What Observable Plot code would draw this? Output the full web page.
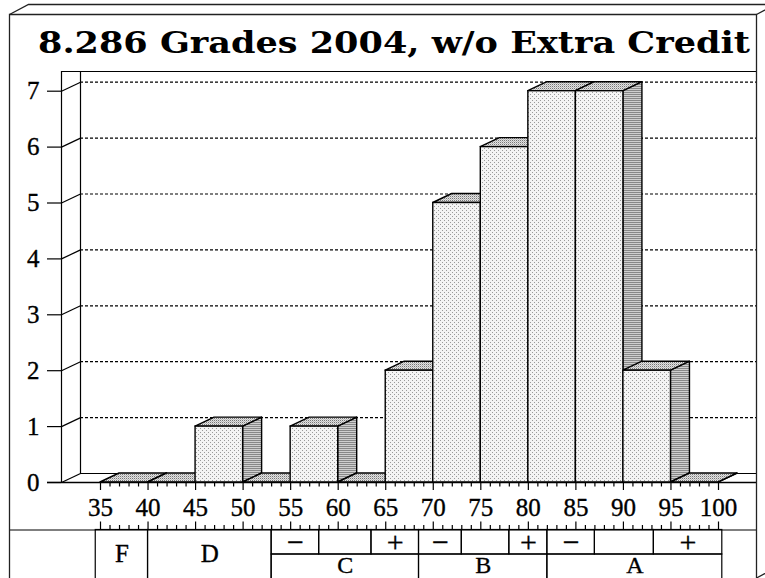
<!DOCTYPE html>
<html><head><meta charset="utf-8">
<script src="https://cdn.jsdelivr.net/npm/d3@7"></script>
<script src="https://cdn.jsdelivr.net/npm/@observablehq/plot@0.6"></script>
<style>html,body{margin:0;padding:0;background:#fff;} #chart{width:765px;height:578px;overflow:hidden;}</style>
</head><body><div id="chart"></div>
<script>
// ---------- data ----------
const title = "8.286 Grades 2004, w/o Extra Credit";
const binStarts = [35, 40, 45, 50, 55, 60, 65, 70, 75, 80, 85, 90, 95];
const counts    = [ 0,  0,  1,  0,  1,  0,  2,  5,  6,  7,  7,  2,  0];
const binWidth = 5;
const xTicks = [35, 40, 45, 50, 55, 60, 65, 70, 75, 80, 85, 90, 95, 100];
const yTicks = [0, 1, 2, 3, 4, 5, 6, 7];
// grade table (score cut-offs)
const cellLo     = [34.5, 40, 53, 58, 63.5, 68.5, 73, 78, 82, 87, 93.2];
const cellHi     = [40, 53, 58, 63.5, 68.5, 73, 78, 82, 87, 93.2, 100.4];
const cellLabels = ["F", "D", "−", "", "+", "−", "", "+", "−", "", "+"];
const groupLetters = ["C", "B", "A"];
const groupLo = [53, 68.5, 82];
const groupHi = [68.5, 82, 100.4];

// ---------- layout ----------
const W = 765, H = 578;
const xPx = [100, 718], yPx = [482, 90.7];
const xDom = [35, 100], yDom = [0, 7];
const xi = px => xDom[0] + (px - xPx[0]) * (xDom[1] - xDom[0]) / (xPx[1] - xPx[0]);
const yi = py => yDom[0] + (yPx[0] - py) * (yDom[1] - yDom[0]) / (yPx[0] - yPx[1]);
const dX = xi(100 + 19) - xi(100);   // depth offset in data units
const dY = yi(482 - 9) - yi(482);

const bins = binStarts.map((lo, i) => ({i, lo, hi: lo + binWidth, v: counts[i]}));
const tops = bins.flatMap(b => [
  {i: b.i, x: b.lo,      y1: b.v,      y2: b.v},
  {i: b.i, x: b.lo + dX, y1: b.v,      y2: b.v + dY},
  {i: b.i, x: b.hi,      y1: b.v,      y2: b.v + dY},
  {i: b.i, x: b.hi + dX, y1: b.v + dY, y2: b.v + dY}
]);
const sides = bins.flatMap(b => [
  {i: b.i, x: b.hi,      y1: 0,  y2: b.v},
  {i: b.i, x: b.hi + dX, y1: dY, y2: b.v + dY}
]);
const minor = d3.range(xDom[0], xDom[1] + 1);
const cells = cellLo.map((lo, k) => ({lo, hi: cellHi[k], label: cellLabels[k], span: k < 2}));
const groups = groupLetters.map((g, k) => ({lo: groupLo[k], hi: groupHi[k], label: g}));

const rowTop = 529.5, rowMid = 554, rowBot = 578;
const FS = 25;
const txt = {stroke: "black", strokeWidth: 0.35, fill: "black"};

const plot = Plot.plot({
  width: W, height: H,
  margin: 0,
  style: {fontFamily: "'Liberation Serif', serif", background: "white", overflow: "visible"},
  x: {domain: xDom, range: xPx, axis: null},
  y: {domain: yDom, range: yPx, axis: null},
  marks: [
    // back wall grid & floor
    Plot.ruleY(yTicks.slice(1), {y: d => d + dY, x1: xi(80), x2: xi(756), stroke: "black", strokeWidth: 1.2, strokeDasharray: "3,2"}),
    Plot.ruleY([dY], {y: d => d, x1: xi(80), x2: xi(756), stroke: "black", strokeWidth: 1.2}),
    Plot.ruleY([yi(71)], {y: d => d, x1: xi(61), x2: xi(756), stroke: "black", strokeWidth: 1.2}),
    Plot.ruleX([xi(61)], {x: d => d, y1: 0, y2: yi(71), stroke: "black", strokeWidth: 1.2}),
    Plot.ruleX([xi(80)], {x: d => d, y1: dY, y2: yi(71), stroke: "black", strokeWidth: 1.2}),
    Plot.link(yTicks, {x1: xi(61), y1: d => d, x2: xi(80), y2: d => d + dY, stroke: "black", strokeWidth: 1.2}),
    // y axis
    Plot.ruleY(yTicks, {y: d => d, x1: xi(47), x2: xi(61), stroke: "black", strokeWidth: 1.2}),
    Plot.text(yTicks, {x: xi(39), y: d => d, text: d => String(d), textAnchor: "end", fontSize: FS, ...txt}),
    // bars: sides, tops, fronts
    Plot.area(sides, {x1: "x", y1: "y1", y2: "y2", z: "i", fill: "url(#pSide)", stroke: "black", strokeWidth: 1.4}),
    Plot.area(tops, {x1: "x", y1: "y1", y2: "y2", z: "i", fill: "url(#pTop)", stroke: "black", strokeWidth: 1.4}),
    Plot.rect(bins, {x1: "lo", x2: "hi", y1: 0, y2: "v", fill: "url(#pFront)", stroke: "black", strokeWidth: 1.4}),
    // x axis line and ticks
    Plot.ruleY([0], {y: d => d, x1: xi(47), x2: xi(756), stroke: "black", strokeWidth: 1.3}),
    Plot.ruleX(minor, {x: d => d, y1: 0, y2: d => d % 5 === 0 ? yi(490) : yi(486.5), stroke: "black", strokeWidth: 1.2}),
    Plot.text(xTicks, {x: d => d, y: yi(507), text: d => String(d), fontSize: FS, ...txt}),
    Plot.ruleX(minor, {x: d => d, y1: yi(rowTop), y2: d => d % 5 === 0 ? yi(521.5) : yi(525), stroke: "black", strokeWidth: 1.2}),
    // grade table
    Plot.ruleY([yi(rowTop)], {y: d => d, x1: xi(9), x2: xi(756), stroke: "black", strokeWidth: 1.2}),
    Plot.rect(cells, {x1: "lo", x2: "hi", y1: d => d.span ? yi(rowBot + 2) : yi(rowMid), y2: yi(rowTop), fill: "none", stroke: "black", strokeWidth: 1.2}),
    Plot.rect(groups, {x1: "lo", x2: "hi", y1: yi(rowBot + 2), y2: yi(rowMid), fill: "none", stroke: "black", strokeWidth: 1.2}),
    Plot.text(cells, {x: d => (d.lo + d.hi) / 2, y: d => d.span ? yi((rowTop + rowBot) / 2) : yi((rowTop + rowMid) / 2), text: "label", fontSize: d => d.span ? FS : 30, ...txt}),
    Plot.text(groups, {x: d => (d.lo + d.hi) / 2, y: yi(565), text: "label", fontSize: FS - 1, ...txt})
  ]
});

// patterns
const svg = d3.select(plot);
const defs = svg.insert("defs", ":first-child");
function pat(id, w, h, bg, pixels) {
  const p = defs.append("pattern").attr("id", id).attr("patternUnits", "userSpaceOnUse").attr("width", w).attr("height", h);
  p.append("rect").attr("width", w).attr("height", h).attr("fill", bg);
  for (const [x, y, c] of pixels) p.append("rect").attr("x", x).attr("y", y).attr("width", 1).attr("height", 1).attr("fill", c);
}
pat("pFront", 4, 4, "#f4f4f4", [[0, 0, "#9a9a9a"], [2, 2, "#9a9a9a"]]);
pat("pTop", 2, 2, "#e2e2e2", [[0, 0, "#777"], [1, 1, "#bbb"]]);
pat("pSide", 2, 2, "#cfcfcf", [[0, 0, "#888"], [1, 0, "#888"]]);

// outer 3D box and title
const g = svg.append("g").attr("fill", "none").attr("stroke", "#222").attr("stroke-width", 1.3);
g.append("path").attr("d", "M9.5,580 L9.5,14.5 L756.5,14.5 L756.5,580");
g.append("path").attr("d", "M9.5,14.5 L28.5,4.5 L780,4.5 M756.5,14.5 L775.5,4.5 M756.5,578 L775.5,568");
svg.append("text")
  .attr("x", 394).attr("y", 53)
  .attr("text-anchor", "middle")
  .attr("font-family", "'DejaVu Serif', serif")
  .attr("font-weight", "bold")
  .attr("font-size", 30)
  .attr("textLength", 712)
  .attr("lengthAdjust", "spacingAndGlyphs")
  .attr("fill", "black")
  .text(title);

document.getElementById("chart").appendChild(plot);
</script>
</body></html>
